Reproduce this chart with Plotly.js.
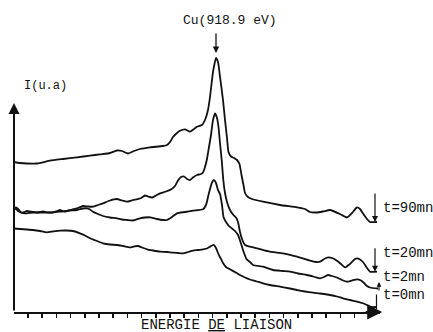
<!DOCTYPE html>
<html>
<head>
<meta charset="utf-8">
<script src="https://cdn.plot.ly/plotly-3.0.1.min.js"></script>
<style>html,body{margin:0;padding:0;background:#fff;}#chart{width:433px;height:332px;}</style>
</head>
<body>
<div id="chart"></div>
<script>
// Binding energy axis in arbitrary channel units, intensity in arbitrary units (u.a)
const seriesNames = ["t=90mn", "t=20mn", "t=2mn", "t=0mn"];
const x90 = [0,6,13,23,36,49,63,76,86,96,103,108,114,120,126,136,149,153,156,159,163,166,171,176,180,183,188,191,194,196,199,202,204,206,209,211,213,214.5,217,220,223,225.5,227.5,229.5,231,234,238,249,266,283,291,296,302,309,316,326,333,338,343,346,349,353,356,363];
const y90 = [150,149,148.5,148.5,151.3,153,154.7,156.3,157.7,159,161.5,161,158.5,161,163,164.7,166,167,170,175,179,181.3,182.7,180.3,183,185.3,187,192,202,215,240,254,250,235.3,212,192,174,160,155.5,154,152,148,137,127,119,115,113,110.3,107,104.7,103,100,99.5,100.5,102,98,94.5,99,104.5,103,98.5,93,90,90];

const x20 = [0,2,4.5,7,9.5,13,16,23,29,34,39,43,46,50,53,58,63,69,74,79,84,89,96,102.7,108,113,119,126,131,134,138,142,146,152,157.7,161,164,167,170,173,176,179,183,187,189,191,193,195,197,199,201,203,204.5,206,207.7,209.3,211,213,216,219,222,224,226,228,231,236,243,256,269,283,296,302,306,311,314,318,323,327,331,336,341,343,346,349,353,356,363];
const y20 = [103.5,104.5,102.5,99.5,99.5,101,100.5,99.5,100.5,99.5,99.5,101,102,100.5,101,102.5,103.7,106,105.5,105.3,107,108.7,111.5,113,111.5,110.3,112,113.5,116.5,115.5,114.5,116.5,118.7,120.5,123,126,131.5,135,135.5,133,132,134.5,137,138,139.5,145,153,165,177,192,198.7,194,185,169,152,132,119,110,102,97.5,94.5,90,80,73,67,65.3,63.7,60.3,58.7,55.3,51.3,50,50.3,53.5,54.7,54,51.3,48,44.7,48,53,53.7,52.5,50,44,40.3,40.3];

const x2 = [0,2,4,6,9,13,19,29,36,46,56,63,69,73,76,79,84,89,96,103,108,113,119,126,131,136,143,149,153,158,163,171,179,189,192,194,196,198,200,202,204,206,208,209.5,212,215,218,221,224,226.5,229,232.5,236,239,249,259,269,276,284,293,301,306,310,314,318,323,328,333,338,343,347,350,353,356,364];
const y2 = [102.5,103,101,100,99,98.7,99.5,99.3,99.5,100.3,101.5,102,103.5,103.7,102.5,100.3,98,96,94.5,93.7,92.5,92,91.5,93.7,94.5,94.7,93,92,92,95,98.7,100,101.3,102.7,107,115,123,129.5,132,129,122,118,107,95,90,86,83.5,81,77,70,62,53,50,47,45.3,42,41,40.3,38.5,37,35,33.7,35,37,36,34.5,32,30.3,31.5,32.7,31.5,29,26,24.5,23.5];

const x0 = [0,6,13,19,26,32.7,39,46,53,59,66,71,76,83,89,96,103,109,116,120,124,128,133,139,146,153,159,164,169,174,179,184,189,193,196,198,200,202,204,206,209,212,216,221,226,231,236,243,249,256,266,276,283,291,299,306,316,323,329,336,343,348,353,357,362];
const y0 = [83.5,83,82.5,82,81,79.7,80.5,81.3,81.5,81,78.7,76.5,73.7,71,68.7,67.5,67,66,64.7,65.5,66,64.5,62.7,61.5,60.3,60,59.3,59,58.7,60,61.3,62,62.7,63.5,65.3,66.5,67,64,59,55,49,45,42.7,40,37,34.5,32.5,30.5,28.7,27,25.3,23.5,22,20.5,19.3,18.5,17,15.5,13.7,12,10.3,9,7,5,5];

const xs = [x90, x20, x2, x0];
const ys = [y90, y20, y2, y0];

const traces = seriesNames.map((n, i) => ({
  x: xs[i], y: ys[i], name: n, type: 'scatter', mode: 'lines',
  line: {color: '#111', width: 1.8, shape: 'spline', smoothing: 0.5},
  showlegend: false, hoverinfo: 'skip'
}));

const FONT = '"Liberation Mono", "DejaVu Sans Mono", monospace';
const layout = {
  width: 433, height: 332,
  margin: {l: 14, r: 53, t: 50, b: 20, pad: 0},
  paper_bgcolor: '#fff', plot_bgcolor: '#fff',
  showlegend: false,
  font: {family: FONT, color: '#111'},
  xaxis: {
    range: [0, 366], showgrid: false, zeroline: false,
    showline: true, linecolor: '#111', linewidth: 2,
    ticks: 'outside', ticklen: 4, tickwidth: 1.5, tickcolor: '#111',
    tick0: 14, dtick: 14.2, showticklabels: false, fixedrange: true
  },
  yaxis: {
    range: [0, 262], showgrid: false, zeroline: false, showline: false,
    showticklabels: false, ticks: '', fixedrange: true
  },
  annotations: [
    // y axis with arrow
    {x: 0, y: 209, xref: 'x', yref: 'y', axref: 'x', ayref: 'y', ax: 0, ay: 0,
     text: '', showarrow: true, arrowhead: 2, arrowsize: 1.1, arrowwidth: 2, arrowcolor: '#111', standoff: 0},
    // x axis arrow head
    {x: 1.006, y: 0, xref: 'paper', yref: 'paper', ax: -18, ay: 0,
     text: '', showarrow: true, arrowhead: 2, arrowsize: 1.5, arrowwidth: 2, arrowcolor: '#111', standoff: 0},
    // Cu peak marker
    {x: 202, y: 259, xref: 'x', yref: 'y', ax: 0, ay: -21,
     text: '', showarrow: true, arrowhead: 2, arrowsize: 1, arrowwidth: 1.3, arrowcolor: '#111', standoff: 0},
    {x: 0.5902, y: 1.1145, xref: 'paper', yref: 'paper', xanchor: 'center', yanchor: 'middle',
     text: 'Cu(918.9 eV)', showarrow: false, font: {family: FONT, size: 13, color: '#111'}},
    {x: 31, y: 226, xref: 'x', yref: 'y', xanchor: 'center', yanchor: 'middle',
     text: 'I(u.a)', showarrow: false, font: {family: FONT, size: 12, color: '#111'}},
    {x: 0.5546, y: -0.05, xref: 'paper', yref: 'paper', xanchor: 'center', yanchor: 'middle',
     text: 'ENERGIE <u>DE</u> LIAISON', showarrow: false, font: {family: FONT, size: 14, color: '#111'}},
    // curve labels and their arrows
    {x: 361, y: 90, xref: 'x', yref: 'y', ax: 0, ay: -30,
     text: '', showarrow: true, arrowhead: 2, arrowsize: 1, arrowwidth: 1.2, arrowcolor: '#111', standoff: 0},
    {x: 361, y: 40.3, xref: 'x', yref: 'y', ax: 0, ay: -25,
     text: '', showarrow: true, arrowhead: 2, arrowsize: 1, arrowwidth: 1.2, arrowcolor: '#111', standoff: 0},
    {x: 365, y: 30, xref: 'x', yref: 'y', ax: 0, ay: 10,
     text: '', showarrow: true, arrowhead: 2, arrowsize: 0.8, arrowwidth: 1.2, arrowcolor: '#111', standoff: 0},
    {x: 362.5, y: 3, xref: 'x', yref: 'y', ax: 0, ay: -16,
     text: '', showarrow: true, arrowhead: 0, arrowwidth: 1.2, arrowcolor: '#111', standoff: 0},
    {x: 1.003, y: 0.397, xref: 'paper', yref: 'paper', xanchor: 'left', yanchor: 'middle',
     text: seriesNames[0], showarrow: false, font: {family: FONT, size: 14, color: '#111'}},
    {x: 1.003, y: 0.225, xref: 'paper', yref: 'paper', xanchor: 'left', yanchor: 'middle',
     text: seriesNames[1], showarrow: false, font: {family: FONT, size: 14, color: '#111'}},
    {x: 1.003, y: 0.134, xref: 'paper', yref: 'paper', xanchor: 'left', yanchor: 'middle',
     text: seriesNames[2], showarrow: false, font: {family: FONT, size: 14, color: '#111'}},
    {x: 1.003, y: 0.065, xref: 'paper', yref: 'paper', xanchor: 'left', yanchor: 'middle',
     text: seriesNames[3], showarrow: false, font: {family: FONT, size: 14, color: '#111'}}
  ]
};

Plotly.newPlot('chart', traces, layout, {displayModeBar: false, staticPlot: true});
</script>
</body>
</html>
